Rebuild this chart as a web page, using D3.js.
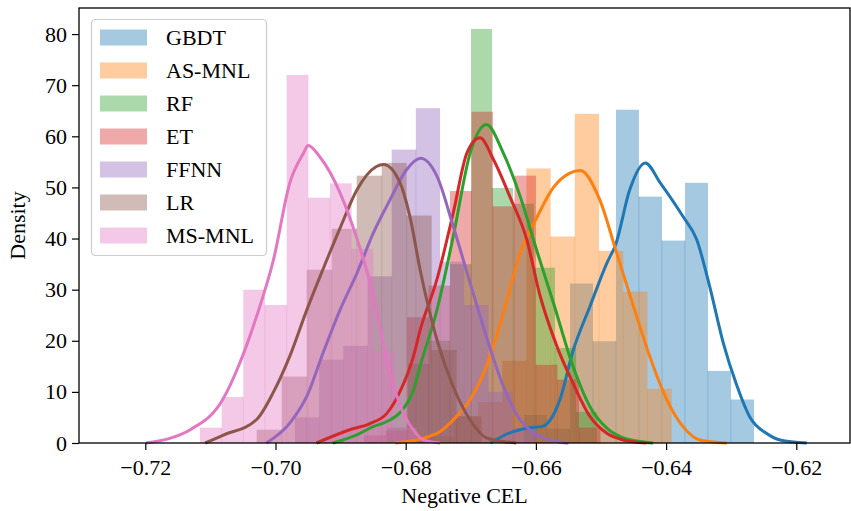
<!DOCTYPE html>
<html>
<head>
<meta charset="utf-8">
<script src="https://cdn.jsdelivr.net/npm/d3@7"></script>
<style>
  body { margin: 0; background: #fff; }
  svg { display: block; font-family: "Liberation Serif", "DejaVu Serif", serif; }
</style>
</head>
<body>
<div id="chart"></div>
<script>
const names = ["GBDT", "AS-MNL", "RF", "ET", "FFNN", "LR", "MS-MNL"];
const palette = ["#1f77b4", "#ff7f0e", "#2ca02c", "#d62728", "#9467bd", "#8c564b", "#e377c2"];

const xTicks = [-0.72, -0.70, -0.68, -0.66, -0.64, -0.62];
const yTicks = [0, 10, 20, 30, 40, 50, 60, 70, 80];

// histogram ranges (first and last bin edge) and densities per bin
const gbdtRange = [-0.66183, -0.62650];
const gbdtHist = [5.5, 2.8, 31.2, 19.9, 65.2, 48.2, 39.6, 50.9, 14.1, 8.5];
const asmnlRange = [-0.67634, -0.63914];
const asmnlHist = [1.3, 5.3, 8, 16.1, 53.7, 40.4, 64.4, 37.6, 29.6, 10.6];
const rfRange = [-0.68287, -0.65061];
const rfHist = [3, 15.5, 20, 35, 81, 49.9, 46.8, 34.3, 18.6, 6.1];
const etRange = [-0.68641, -0.65008];
const etHist = [1.5, 2.5, 24.6, 30.8, 49.3, 64.8, 46.3, 52.3, 15.3, 12.4, 3.0];
const ffnnRange = [-0.69702, -0.65985];
const ffnnHist = [5, 16.3, 19, 32.6, 57.4, 65.5, 35.5, 27, 10, 3];
const lrRange = [-0.70289, -0.66833];
const lrHist = [2.6, 13, 33.9, 41.9, 52.3, 54.8, 44.5, 18.2, 5.2];
const msmnlRange = [-0.71160, -0.67831];
const msmnlHist = [3, 9, 30, 27, 72, 48, 50.8, 38, 18, 3];

// kde curves: [value, density]
const gbdtKde = [[-0.6670, 0], [-0.6640, 2], [-0.6614, 2.9], [-0.6589, 3.3], [-0.6578, 4.5], [-0.6563, 8.5],
  [-0.6543, 18], [-0.6517, 26.7], [-0.6491, 35.2], [-0.6477, 39], [-0.6456, 49.5], [-0.6432, 54.8],
  [-0.6409, 50.9], [-0.6374, 44.3], [-0.6353, 39.8], [-0.6333, 30.6], [-0.6312, 19.5], [-0.6292, 11.5],
  [-0.6271, 5], [-0.6246, 1.9], [-0.6225, 0.6], [-0.6184, 0]];
const asmnlKde = [[-0.6816, 0], [-0.6752, 1.9], [-0.6727, 4.5], [-0.6701, 8.5], [-0.6676, 15], [-0.6650, 25.4],
  [-0.6624, 37.2], [-0.6599, 44], [-0.6573, 50], [-0.6548, 52.8], [-0.6532, 53.3], [-0.6502, 47.6],
  [-0.6476, 37.2], [-0.6450, 26.7], [-0.6425, 16.9], [-0.6399, 8.5], [-0.6374, 3.2], [-0.6348, 0.6], [-0.6307, 0]];
const rfKde = [[-0.6912, 0], [-0.6875, 1.6], [-0.6850, 3.2], [-0.6829, 4.2], [-0.6809, 5.9], [-0.6788, 10.4],
  [-0.6778, 15], [-0.6752, 26], [-0.6727, 40.4], [-0.6701, 56.7], [-0.6676, 62.3], [-0.6650, 56.7],
  [-0.6624, 48.2], [-0.6599, 37.8], [-0.6573, 27.4], [-0.6543, 15], [-0.6517, 7.1], [-0.6491, 2.9],
  [-0.6466, 1], [-0.6440, 0.3], [-0.6420, 0]];
const etKde = [[-0.6937, 0], [-0.6886, 2.6], [-0.6855, 3.8], [-0.6829, 5.8], [-0.6809, 10], [-0.6788, 17],
  [-0.6778, 22], [-0.6752, 32], [-0.6727, 45], [-0.6706, 56.7], [-0.6686, 59.7], [-0.6665, 55.4],
  [-0.6640, 48.2], [-0.6614, 39.8], [-0.6594, 29], [-0.6568, 19], [-0.6543, 11.7], [-0.6517, 5.2],
  [-0.6491, 1.9], [-0.6466, 0.6], [-0.6430, 0]];
const ffnnKde = [[-0.7014, 0], [-0.6978, 3.9], [-0.6952, 9.1], [-0.6927, 17.6], [-0.6901, 26], [-0.6875, 33.2],
  [-0.6850, 41], [-0.6824, 47.6], [-0.6799, 53.4], [-0.6777, 55.7], [-0.6752, 52.2], [-0.6727, 42.4],
  [-0.6701, 31.3], [-0.6676, 20.8], [-0.6650, 11.1], [-0.6624, 4.5], [-0.6599, 1.6], [-0.6568, 0.3], [-0.6550, 0]];
const lrKde = [[-0.7108, 0], [-0.7081, 1.5], [-0.7029, 4.6], [-0.7003, 10], [-0.6978, 17], [-0.6952, 26],
  [-0.6927, 34], [-0.6901, 42], [-0.6875, 49.5], [-0.6845, 54.1], [-0.6834, 54.5], [-0.6809, 51],
  [-0.6793, 44], [-0.6778, 34], [-0.6752, 20.2], [-0.6727, 11], [-0.6701, 4.5], [-0.6676, 1], [-0.6650, 0.3], [-0.6630, 0]];
const msmnlKde = [[-0.7199, 0], [-0.7165, 0.8], [-0.7131, 2.6], [-0.7081, 8.5], [-0.7055, 15.6], [-0.7029, 24.8],
  [-0.7003, 35.9], [-0.6978, 50.9], [-0.6957, 56.7], [-0.6950, 58.2], [-0.6932, 56], [-0.6901, 49],
  [-0.6875, 40], [-0.6850, 29], [-0.6829, 16], [-0.6809, 7.5], [-0.6788, 2.5], [-0.6773, 0.6], [-0.6747, 0]];

const ranges = [gbdtRange, asmnlRange, rfRange, etRange, ffnnRange, lrRange, msmnlRange];
const hists = [gbdtHist, asmnlHist, rfHist, etHist, ffnnHist, lrHist, msmnlHist];
const kdes = [gbdtKde, asmnlKde, rfKde, etKde, ffnnKde, lrKde, msmnlKde];

const series = names.map((name, i) => {
  const [lo, hi] = ranges[i];
  const n = hists[i].length;
  const step = (hi - lo) / n;
  const bins = hists[i].map((v, j) => ({ x0: lo + j * step, x1: lo + (j + 1) * step, y: v }));
  // seams between neighbouring bars of one histogram
  const seams = bins.slice(1).map((b, j) => ({ x: b.x0, y: Math.min(b.y, bins[j].y) }));
  return { name, color: palette[i], bins, seams, kde: kdes[i] };
});

const w = 851;
const h = 511;
const margin = { top: 8, right: 1, bottom: 68, left: 79 };

const svg = d3.select("#chart").append("svg")
  .attr("width", w)
  .attr("height", h);

const x = d3.scaleLinear()
  .domain([-0.730184, -0.61175])
  .range([margin.left, w - margin.right]);

const y = d3.scaleLinear()
  .domain([0, 85.1])
  .range([h - margin.bottom, margin.top]);

const plot = svg.append("g");

// histograms first, then the kde lines on top
series.forEach(s => {
  const g = plot.append("g");
  g.selectAll("rect")
    .data(s.bins)
    .enter().append("rect")
    .attr("x", d => x(d.x0))
    .attr("width", d => x(d.x1) - x(d.x0))
    .attr("y", d => y(d.y))
    .attr("height", d => y(0) - y(d.y))
    .attr("fill", s.color)
    .attr("fill-opacity", 0.4);
  g.selectAll("line")
    .data(s.seams)
    .enter().append("line")
    .attr("x1", d => x(d.x))
    .attr("x2", d => x(d.x))
    .attr("y1", y(0))
    .attr("y2", d => y(d.y))
    .attr("stroke", s.color)
    .attr("stroke-opacity", 0.3)
    .attr("stroke-width", 0.8);
});

const line = d3.line()
  .x(d => x(d[0]))
  .y(d => y(d[1]))
  .curve(d3.curveMonotoneX);

series.forEach(s => {
  plot.append("path")
    .datum(s.kde)
    .attr("d", line)
    .attr("fill", "none")
    .attr("stroke", s.color)
    .attr("stroke-width", 3)
    .attr("stroke-linejoin", "round");
});

// axes
const fontSize = 22;

const xAxis = svg.append("g")
  .attr("transform", `translate(0, ${y(0)})`)
  .call(d3.axisBottom(x).tickValues(xTicks).tickFormat(d3.format(".2f")).tickSize(7).tickPadding(9).tickSizeOuter(0));

const yAxis = svg.append("g")
  .attr("transform", `translate(${margin.left}, 0)`)
  .call(d3.axisLeft(y).tickValues(yTicks).tickFormat(d3.format("d")).tickSize(7).tickPadding(5).tickSizeOuter(0));

[xAxis, yAxis].forEach(a => {
  a.select(".domain").remove();
  a.selectAll(".tick line").attr("stroke", "#000").attr("stroke-width", 1.2);
  a.selectAll(".tick text")
    .attr("font-family", "Liberation Serif, serif")
    .attr("font-size", fontSize)
    .attr("fill", "#000");
});

// frame
svg.append("rect")
  .attr("x", x.range()[0])
  .attr("y", y.range()[1])
  .attr("width", x.range()[1] - x.range()[0])
  .attr("height", y.range()[0] - y.range()[1])
  .attr("fill", "none")
  .attr("stroke", "#000")
  .attr("stroke-width", 1.3);

svg.append("text")
  .attr("x", (x.range()[0] + x.range()[1]) / 2)
  .attr("y", 503)
  .attr("text-anchor", "middle")
  .attr("font-size", fontSize)
  .text("Negative CEL");

svg.append("text")
  .attr("transform", `translate(25, ${(y.range()[0] + y.range()[1]) / 2}) rotate(-90)`)
  .attr("text-anchor", "middle")
  .attr("font-size", fontSize)
  .text("Density");

// legend
const legend = svg.append("g").attr("class", "legend");

legend.append("rect")
  .attr("x", 91.5)
  .attr("y", 19.5)
  .attr("width", 175)
  .attr("height", 236)
  .attr("rx", 4)
  .attr("fill", "#fff")
  .attr("fill-opacity", 0.8)
  .attr("stroke", "#cccccc")
  .attr("stroke-width", 1.2);

const item = legend.selectAll("g.item")
  .data(series)
  .enter().append("g")
  .attr("class", "item")
  .attr("transform", (d, i) => `translate(100, ${37.5 + i * 33})`);

item.append("rect")
  .attr("x", 0)
  .attr("y", -8)
  .attr("width", 47)
  .attr("height", 16)
  .attr("fill", d => d.color)
  .attr("fill-opacity", 0.4);

item.append("text")
  .attr("x", 66)
  .attr("y", 0)
  .attr("dy", "0.35em")
  .attr("font-size", fontSize)
  .text(d => d.name);
</script>
</body>
</html>
